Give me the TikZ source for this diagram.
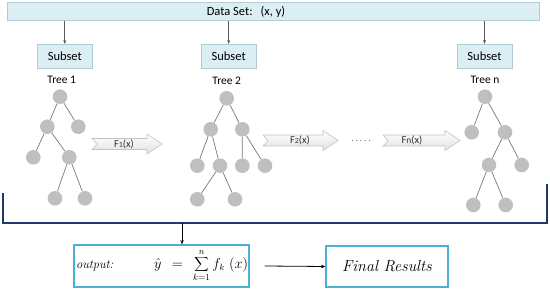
\documentclass[tikz,border=0pt]{standalone}
\usepackage{fontspec}
\setmainfont{Carlito}
\usetikzlibrary{arrows.meta}
\definecolor{barfill}{RGB}{218,238,243}
\definecolor{barline}{RGB}{178,204,214}
\definecolor{conn}{RGB}{89,89,89}
\definecolor{navy}{RGB}{31,56,110}
\definecolor{cyanbox}{RGB}{75,176,214}
\definecolor{nodegray}{RGB}{191,191,191}
\definecolor{edgegray}{RGB}{120,120,120}
\definecolor{chevfill}{RGB}{242,242,242}
\definecolor{chevline}{RGB}{195,195,195}
\newcommand\lmit{\fontfamily{lmr}\selectfont\itshape}
% chevron arrow: #1 tail x, #2 head start x, #3 tip x, #4 centre y
\newcommand\chevron[4]{%
  \draw[chevron] ({#1},{#4-5.5}) -- ({#2},{#4-5.5}) -- ({#2},{#4-10}) -- ({#3},{#4})
    -- ({#2},{#4+10}) -- ({#2},{#4+5.5}) -- ({#1},{#4+5.5}) -- ({#1+5},{#4}) -- cycle;}
\tikzset{
  databar/.style={draw=barline, line width=0.5pt, fill=barfill, minimum width=532pt, minimum height=18pt, inner sep=0pt, font=\fontsize{12.5}{14}\selectfont},
  subsetbox/.style={draw=barline, line width=0.5pt, fill=barfill, minimum width=55pt, minimum height=24pt, inner sep=0pt, font=\fontsize{12.5}{14}\selectfont},
  treelabel/.style={inner sep=0pt, font=\fontsize{11.5}{13}\selectfont},
  tnode/.style={circle, fill=nodegray, inner sep=0pt, minimum size=14.6pt},
  tedge/.style={draw=edgegray, line width=0.7pt},
  feed/.style={draw=conn, line width=0.7pt, -{Stealth[length=4pt,width=3pt]}},
  chevron/.style={draw=chevline, line width=0.6pt, top color=white, bottom color=chevfill!85!gray},
  chevlabel/.style={inner sep=0pt, font=\fontsize{10.5}{12}\selectfont, text=black!80},
  resultbox/.style={draw=cyanbox, line width=1.2pt, fill=white, inner sep=0pt},
  bracket/.style={draw=navy, line width=1.1pt},
  blackarrow/.style={draw=black, line width=0.8pt, -{Stealth[length=4.5pt,width=3.5pt]}}
}
\begin{document}
\begin{tikzpicture}[x=1pt,y=-1pt]
\useasboundingbox (0,0) rectangle (550,291);
% data set bar
\node[databar] (data) at (273,11.7) {};
\node[inner sep=0pt, font=\fontsize{12.5}{14}\selectfont] (datatext) at (246,11.7) {Data Set:\hspace{8pt}(x, y)};
% subsets
\node[subsetbox] (s1) at (64.8,56.3) {Subset};
\node[subsetbox] (s2) at (228.7,56.3) {Subset};
\node[subsetbox] (sn) at (484.5,56.3) {Subset};
\draw[feed] (data.south -| s1) -- (s1.north);
\draw[feed] (data.south -| s2) -- (s2.north);
\draw[feed] (data.south -| sn) -- (sn.north);
% tree labels
\node[treelabel] (t1) at (61.7,79.5) {Tree 1};
\node[treelabel] (t2) at (226.7,80.5) {Tree 2};
\node[treelabel] (tn) at (485,80) {Tree n};
% tree 1
\node[tnode] (a0) at (60,96.7) {};
\node[tnode] (a1) at (47.3,126.7) {};
\node[tnode] (a2) at (78.3,126.7) {};
\node[tnode] (a3) at (33.3,157.3) {};
\node[tnode] (a4) at (69.3,157.3) {};
\node[tnode] (a5) at (55,198.3) {};
\node[tnode] (a6) at (85,198.3) {};
\draw[tedge] (a0) -- (a1) (a0) -- (a2) (a1) -- (a3) (a1) -- (a4) (a4) -- (a5) (a4) -- (a6);
% tree 2
\node[tnode] (b0) at (226.7,98.3) {};
\node[tnode] (b1) at (210.7,129.3) {};
\node[tnode] (b2) at (242.3,129.3) {};
\node[tnode] (b3) at (197.3,165.7) {};
\node[tnode] (b4) at (220,165.7) {};
\node[tnode] (b5) at (242.3,165.7) {};
\node[tnode] (b6) at (265,165.7) {};
\node[tnode] (b7) at (197.3,199.3) {};
\node[tnode] (b8) at (235,199.3) {};
\draw[tedge] (b0) -- (b1) (b0) -- (b2) (b1) -- (b3) (b1) -- (b4) (b2) -- (b5) (b2) -- (b6) (b4) -- (b7) (b4) -- (b8);
% tree n
\node[tnode] (c0) at (485,96.7) {};
\node[tnode] (c1) at (471.7,132.3) {};
\node[tnode] (c2) at (505,132.3) {};
\node[tnode] (c3) at (489,165) {};
\node[tnode] (c4) at (521.7,165) {};
\node[tnode] (c5) at (473.3,205) {};
\node[tnode] (c6) at (505.7,205) {};
\draw[tedge] (c0) -- (c1) (c0) -- (c2) (c2) -- (c3) (c2) -- (c4) (c3) -- (c5) (c3) -- (c6);
% chevron arrows
\chevron{92}{147}{162}{144}
\node[chevlabel] (f1) at (124,144) {F{\fontsize{8}{9}\selectfont 1}(x)};
\chevron{263}{323}{338}{140.5}
\node[chevlabel] (f2) at (300,140.5) {F{\fontsize{8}{9}\selectfont 2}(x)};
\node[inner sep=0pt, font=\fontsize{9}{10}\selectfont, text=black!55] (dots) at (361,142) {· · · · ·};
\chevron{383}{445}{460}{140.5}
\node[chevlabel] (fn) at (412,140.5) {F{\fontsize{9.5}{10}\selectfont n}(x)};
% bracket
\coordinate (bl) at (3,193);
\coordinate (br) at (547,184);
\coordinate (bm) at (182,223);
\draw[bracket] (bl) -- (3,223) -- (547,223) -- (br);
% output boxes
\node[resultbox, minimum width=175pt, minimum height=42pt, font=\fontsize{13.5}{15}\selectfont] (outbox) at (161.5,266)
  {\makebox[175pt]{\hspace{2pt}{\fontsize{12.5}{14}\lmit output:}\hfill$\displaystyle \hat{y} \;\,=\;\, \sum_{k=1}^{n} f_k\;(x)$\hspace{1pt}}};
\node[resultbox, minimum width=122pt, minimum height=41pt, font=\fontsize{16}{18}\selectfont] (final) at (387,266.5) {\lmit Final Results};
\draw[blackarrow] (bm) -- (outbox.north -| bm);
\draw[blackarrow] ([xshift=15pt]outbox.east) -- (final.west);
\end{tikzpicture}
\end{document}
